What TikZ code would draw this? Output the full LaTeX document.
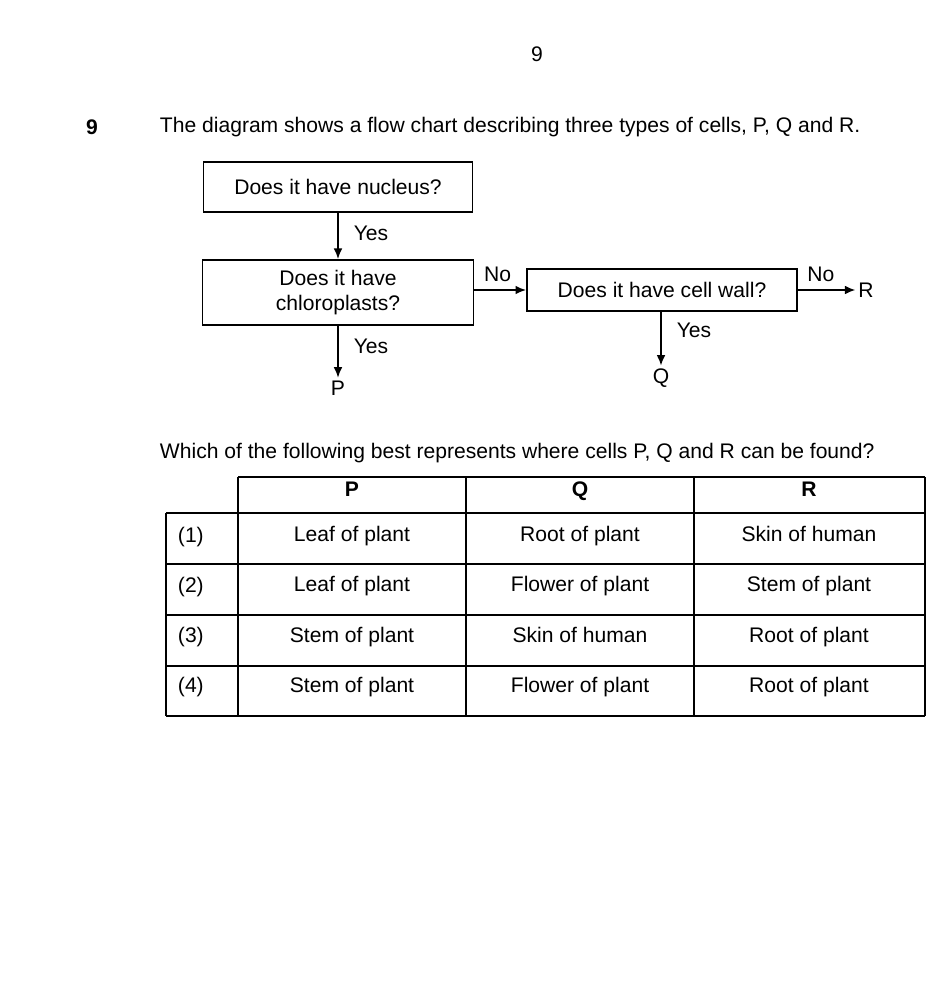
\documentclass[tikz,border=0pt]{standalone}
\usepackage[rgb]{xcolor}
\usepackage{fontspec}
\setmainfont{Liberation Sans}
\usepackage{tikz}
\usetikzlibrary{arrows.meta}

\begin{document}
\begin{tikzpicture}[x=0.02cm, y=-0.02cm,
  every node/.style={font=\fontsize{12}{14.5}\selectfont, inner sep=1.5pt},
  question/.style={draw, line width=1.1pt, align=center},
  cell/.style={anchor=center, text height=8.6pt, text depth=2.5pt},
  flow/.style={-{Latex[length=6pt, width=5pt]}, black, line width=1pt}]

\useasboundingbox (0,0) rectangle (940,1000);

% page number and question
\path
(537,54) node(page){9}
(92,127) node(qnum){\bfseries 9}
(157,127) node[anchor=west](intro){The diagram shows a flow chart describing three types of cells, P, Q and R.};

%% flow chart boxes
\path
(338,187) node[question, minimum width=269*0.02cm, minimum height=50*0.02cm](nucleus){Does it have nucleus?}
(338,292.5) node[question, minimum width=271*0.02cm, minimum height=65*0.02cm](chloro){Does it have\\chloroplasts?}
(662,290) node[question, minimum width=270*0.02cm, minimum height=42*0.02cm](wall){Does it have cell wall?};

%% answers
\path
(338,388) node(P){P}
(661,378) node(Q){Q}
(866,290) node(R){R};

%% arrows between the boxes
\draw[flow] (nucleus) -- node[right=7pt, pos=0.45]{Yes} (chloro);
\draw[flow] (chloro.east |- wall.west) -- node[above=3pt, pos=0.45]{No} (wall.west);
\draw[flow] (chloro) -- node[right=7pt, pos=0.4]{Yes} (P);
\draw[flow] (wall.south -| Q.north) -- node[right=7pt, pos=0.35]{Yes} (Q);
\draw[flow] (wall) -- node[above=3pt, pos=0.4]{No} (R);

%% second part of the question
\path
(157,453) node[anchor=west](ask){Which of the following best represents where cells P, Q and R can be found?};

%% table grid
\draw[black, line width=0.8pt] (238,477) -- (925,477);
\draw[black, line width=0.8pt] (166,513) -- (925,513);
\draw[black, line width=0.8pt] (166,564) -- (925,564);
\draw[black, line width=0.8pt] (166,615) -- (925,615);
\draw[black, line width=0.8pt] (166,666) -- (925,666);
\draw[black, line width=0.8pt] (166,716) -- (925,716);
\draw[black, line width=0.8pt] (166,513) -- (166,716);
\draw[black, line width=0.8pt] (238,477) -- (238,716);
\draw[black, line width=0.8pt] (466,477) -- (466,716);
\draw[black, line width=0.8pt] (694,477) -- (694,716);
\draw[black, line width=0.8pt] (925,477) -- (925,716);

%% header
\path
(352,491) node[cell](headP){\bfseries P}
(580,491) node[cell](headQ){\bfseries Q}
(809,491) node[cell](headR){\bfseries R};

%% option (1)
\path
(175,537) node[cell, anchor=west](one){(1)}
(352,536) node[cell](oneP){Leaf of plant}
(580,536) node[cell](oneQ){Root of plant}
(809,536) node[cell](oneR){Skin of human};

%% option (2)
\path
(175,587) node[cell, anchor=west](two){(2)}
(352,586) node[cell](twoP){Leaf of plant}
(580,586) node[cell](twoQ){Flower of plant}
(809,586) node[cell](twoR){Stem of plant};

%% option (3)
\path
(175,637) node[cell, anchor=west](three){(3)}
(352,637) node[cell](threeP){Stem of plant}
(580,637) node[cell](threeQ){Skin of human}
(809,637) node[cell](threeR){Root of plant};

%% option (4)
\path
(175,687) node[cell, anchor=west](four){(4)}
(352,687) node[cell](fourP){Stem of plant}
(580,687) node[cell](fourQ){Flower of plant}
(809,687) node[cell](fourR){Root of plant};

\end{tikzpicture}
\end{document}
